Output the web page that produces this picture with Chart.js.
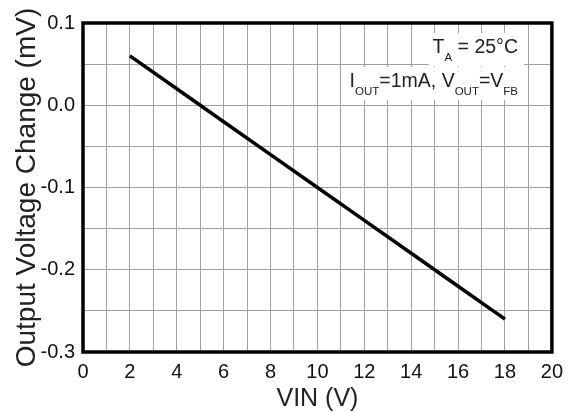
<!DOCTYPE html>
<html>
<head>
<meta charset="utf-8">
<script src="https://cdn.jsdelivr.net/npm/chart.js@4"></script>
<style>
  html, body { margin: 0; padding: 0; background: #fff; }
  canvas { display: block; }
</style>
</head>
<body>
<canvas id="grafico" width="571" height="412"></canvas>
<script>
const vin = [2, 4, 6, 8, 10, 12, 14, 16, 18];
const deltaVout = [0.06, 0.02, -0.02, -0.06, -0.10, -0.14, -0.18, -0.22, -0.26];

const fonte = '"Liberation Sans", Arial, sans-serif';

// moldura preta em volta da area do grafico
const moldura = {
  id: 'moldura',
  afterDatasetsDraw(chart) {
    const a = chart.chartArea;
    const c = chart.ctx;
    c.save();
    c.strokeStyle = '#000';
    c.lineWidth = 3.5;
    c.strokeRect(a.left, a.top, a.right - a.left, a.bottom - a.top);
    c.restore();
  }
};

// texto das condicoes, com subscritos
const anotacao = {
  id: 'anotacao',
  afterDatasetsDraw(chart) {
    const c = chart.ctx;
    const direita = 518;
    const linhas = [
      { base: 53, partes: [['T', 0], ['A', 1], [' = 25\u00B0C', 0]] },
      { base: 87, partes: [['I', 0], ['OUT', 1], ['=1mA, V', 0], ['OUT', 1], ['=V', 0], ['FB', 1]] }
    ];
    c.save();
    c.textBaseline = 'alphabetic';
    c.textAlign = 'left';
    linhas.forEach(l => {
      let largura = 0;
      l.partes.forEach(p => {
        c.font = (p[1] ? '11.5px ' : '19.5px ') + fonte;
        largura += c.measureText(p[0]).width;
      });
      let x = direita - largura;
      c.fillStyle = '#fff';
      c.fillRect(x - 4, l.base - 20, largura + 10, 33);
      c.fillStyle = '#222';
      l.partes.forEach(p => {
        c.font = (p[1] ? '11.5px ' : '19.5px ') + fonte;
        c.fillText(p[0], x, p[1] ? l.base + 8 : l.base);
        x += c.measureText(p[0]).width;
      });
    });
    c.restore();
  }
};

const ctx = document.getElementById('grafico').getContext('2d');

const grafico = new Chart(ctx, {
  type: 'line',
  data: {
    datasets: [{
      data: vin.map((v, i) => ({ x: v, y: deltaVout[i] })),
      borderColor: '#000',
      borderWidth: 3.5,
      pointRadius: 0,
      tension: 0,
      fill: false
    }]
  },
  options: {
    responsive: false,
    animation: false,
    layout: { padding: { top: 23, right: 16, left: 0, bottom: 0 } },
    plugins: {
      legend: { display: false },
      tooltip: { enabled: false }
    },
    scales: {
      x: {
        type: 'linear',
        min: 0,
        max: 20,
        afterFit: s => { s.height = 60; },
        grid: { color: '#a0a0a0', lineWidth: 1, drawTicks: false },
        border: { display: false },
        ticks: {
          stepSize: 1,
          padding: 8,
          autoSkip: false,
          maxRotation: 0,
          minRotation: 0,
          color: '#111',
          font: { family: fonte, size: 20 },
          callback: v => (v % 2 === 0 ? String(v) : '')
        },
        title: {
          display: true,
          text: 'VIN (V)',
          color: '#222',
          font: { family: fonte, size: 25, lineHeight: 1 },
          padding: { top: 4, bottom: 0 }
        }
      },
      y: {
        min: -0.3,
        max: 0.1,
        afterFit: s => { s.width = 83; },
        grid: { color: '#a0a0a0', lineWidth: 1, drawTicks: false },
        border: { display: false },
        ticks: {
          stepSize: 0.05,
          padding: 8,
          color: '#111',
          font: { family: fonte, size: 20 },
          callback: v => {
            const d = v * 10;
            return Math.abs(d - Math.round(d)) < 1e-6 ? (Math.round(d) / 10).toFixed(1) : '';
          }
        },
        title: {
          display: true,
          text: 'Output Voltage Change (mV)',
          color: '#222',
          font: { family: fonte, size: 28, lineHeight: 1 },
          padding: { top: 13, bottom: 0 }
        }
      }
    }
  },
  plugins: [moldura, anotacao]
});
</script>
</body>
</html>
